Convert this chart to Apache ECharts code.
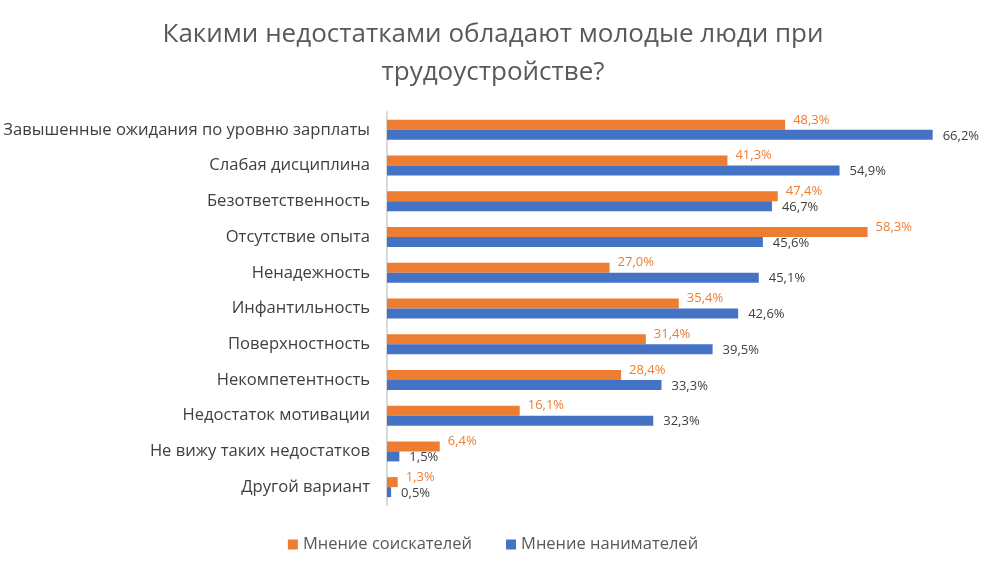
<!DOCTYPE html>
<html><head><meta charset="utf-8">
<script src="https://cdn.jsdelivr.net/npm/echarts@6/dist/echarts.min.js"></script>
<style>html,body{margin:0;padding:0;background:#fff}#c{width:986px;height:567px}</style>
</head><body><div id="c"></div>
<script>
const categories = ["Завышенные ожидания по уровню зарплаты","Слабая дисциплина","Безответственность","Отсутствие опыта","Ненадежность","Инфантильность","Поверхностность","Некомпетентность","Недостаток мотивации","Не вижу таких недостатков","Другой вариант"];
const applicants = [48.3,41.3,47.4,58.3,27.0,35.4,31.4,28.4,16.1,6.4,1.3];
const employers = [66.2,54.9,46.7,45.6,45.1,42.6,39.5,33.3,32.3,1.5,0.5];
const seriesNames = ["Мнение соискателей","Мнение нанимателей"];
const titleText = "Какими недостатками обладают молодые люди при\nтрудоустройстве?";
const FONT = "'Open Sans', sans-serif";
const fmt = p => p.value.toFixed(1).replace('.', ',') + '%';
const chart = echarts.init(document.getElementById('c'));
chart.setOption({
  animation:false,
  title:{text:titleText,left:'center',top:11,textStyle:{fontFamily:FONT,fontSize:26,fontWeight:'normal',color:'#595959',lineHeight:38}},
  legend:{bottom:9,left:'center',itemWidth:10,itemHeight:10,itemGap:34,icon:'rect',textStyle:{fontFamily:FONT,fontSize:16.5,color:'#595959'},data:seriesNames},
  grid:{left:387,right:22,top:112,bottom:62,containLabel:false},
  xAxis:{type:'value',min:0,max:70,show:false},
  yAxis:{type:'category',data:categories,inverse:true,axisLine:{lineStyle:{color:'#d9d9d9',width:2}},axisTick:{show:false},axisLabel:{fontFamily:FONT,fontSize:16.6,color:'#404040',margin:17}},
  series:[
    {name:seriesNames[0],type:'bar',data:applicants,barWidth:10,barGap:'0%',itemStyle:{color:'#ED7D31'},
     label:{show:true,position:'right',distance:8,offset:[0,-5],formatter:fmt,fontFamily:FONT,fontSize:13,color:'#ED7D31'}},
    {name:seriesNames[1],type:'bar',data:employers,barWidth:10,barGap:'0%',itemStyle:{color:'#4472C4'},
     label:{show:true,position:'right',distance:10,offset:[0,1],formatter:fmt,fontFamily:FONT,fontSize:13,color:'#404040'}}
  ]
});
</script></body></html>
